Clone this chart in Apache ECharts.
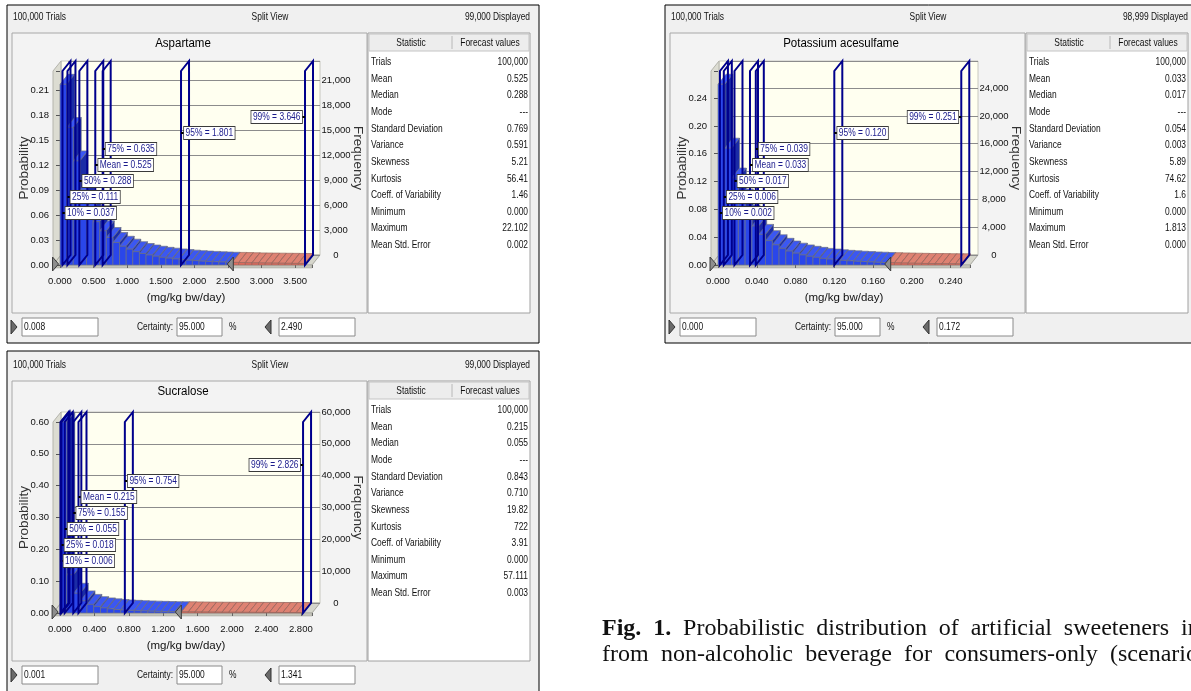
<!DOCTYPE html>
<html>
<head>
<meta charset="utf-8">
<script src="https://cdn.jsdelivr.net/npm/echarts@6/dist/echarts.min.js"></script>
<style>
html,body{margin:0;padding:0;background:#fff}
#chart{width:1191px;height:691px}
</style>
</head>
<body>
<div id="chart"></div>
<script>
var SANS = "'Liberation Sans',Arial,sans-serif";
var SERIF = "'Liberation Serif','Times New Roman',serif";
var NARROW_X = 0.78; // horizontal squeeze for the narrow dialog font

// ---- data ----
var trials = 100000;
var statNames = ['Trials', 'Mean', 'Median', 'Mode', 'Standard Deviation', 'Variance', 'Skewness',
  'Kurtosis', 'Coeff. of Variability', 'Minimum', 'Maximum', 'Mean Std. Error'];
var aspStats = ['100,000', '0.525', '0.288', '---', '0.769', '0.591', '5.21', '56.41', '1.46', '0.000', '22.102', '0.002'];
var sucStats = ['100,000', '0.215', '0.055', '---', '0.843', '0.710', '19.82', '722', '3.91', '0.000', '57.111', '0.003'];
var aceStats = ['100,000', '0.033', '0.017', '---', '0.054', '0.003', '5.89', '74.62', '1.6', '0.000', '1.813', '0.000'];

var pctNames = ['10%', '25%', '50%', 'Mean', '75%', '95%', '99%'];
var aspPct = [0.037, 0.111, 0.288, 0.525, 0.635, 1.801, 3.646];
var sucPct = [0.006, 0.018, 0.055, 0.215, 0.155, 0.754, 2.826];
var acePct = [0.002, 0.006, 0.017, 0.033, 0.039, 0.120, 0.251];

// certainty range [lower, upper]
var aspCertainty = [0.008, 2.490];
var sucCertainty = [0.001, 1.341];
var aceCertainty = [0.000, 0.172];

// histogram bins (probability per bin)
var aspBinWidth = 0.0985;
var aspProb = [0.217, 0.165, 0.125, 0.09, 0.068, 0.052, 0.041, 0.033, 0.027, 0.0225, 0.019, 0.016,
  0.0138, 0.012, 0.0105, 0.0092, 0.0082, 0.0073, 0.0065, 0.0058, 0.0052, 0.0047, 0.0043, 0.0039,
  0.0036, 0.0033, 0.0031, 0.0029, 0.0027, 0.0025, 0.0024, 0.0023, 0.0022, 0.0021, 0.002, 0.0019, 0.0018];
var sucBinWidth = 0.0785;
var sucProb = [0.60, 0.12, 0.062, 0.038, 0.027, 0.02, 0.016, 0.013, 0.011, 0.0095, 0.0083, 0.0073,
  0.0065, 0.0058, 0.0052, 0.0047, 0.0043, 0.004, 0.0037, 0.0034, 0.0031, 0.0029, 0.0027, 0.0025,
  0.0024, 0.0023, 0.0022, 0.0021, 0.002, 0.0019, 0.0018, 0.0017, 0.0016, 0.0015, 0.0015, 0.0014];
var aceBinWidth = 0.007;
var aceProb = [0.26, 0.168, 0.125, 0.095, 0.072, 0.056, 0.044, 0.035, 0.029, 0.024, 0.02, 0.017,
  0.0145, 0.0125, 0.011, 0.0095, 0.0085, 0.0075, 0.0067, 0.006, 0.0054, 0.0049, 0.0044, 0.004,
  0.0036, 0.0033, 0.003, 0.0028, 0.0026, 0.0024, 0.0022, 0.0021, 0.002, 0.0019, 0.0018, 0.0017];

// ---- layout ----
var DX = 8, DY = 10; // depth offset of the 3d back wall
var panels = [
  {name: 'Aspartame', ox: 7, oy: 5, frameY: 5, frameH: 338, displayed: '99,000 Displayed',
    probs: aspProb, binWidth: aspBinWidth, pct: aspPct, stats: aspStats, cert: aspCertainty,
    xMax: 3.75, xInterval: 0.5, yMax: 0.233, yInterval: 0.03, freqInterval: 3000, gridH: 194},
  {name: 'Sucralose', ox: 7, oy: 353, frameY: 351, frameH: 345, displayed: '99,000 Displayed',
    probs: sucProb, binWidth: sucBinWidth, pct: sucPct, stats: sucStats, cert: sucCertainty,
    xMax: 2.93, xInterval: 0.4, yMax: 0.6, yInterval: 0.1, freqInterval: 10000, gridH: 191},
  {name: 'Potassium acesulfame', ox: 665, oy: 5, frameY: 5, frameH: 338, displayed: '98,999 Displayed',
    probs: aceProb, binWidth: aceBinWidth, pct: acePct, stats: aceStats, cert: aceCertainty,
    xMax: 0.26, xInterval: 0.04, yMax: 0.279, yInterval: 0.04, freqInterval: 4000, gridH: 194}
];

var blue = {front: '#2a46ea', top: '#3b57f2', side: '#1b2ca6', edge: '#6f7386'};
var red = {front: '#e06a5c', top: '#de8272', side: '#b44a3c', edge: '#9a6a62'};

function tickFmt(interval, dec) {
  return function (v) {
    var k = v / interval;
    return Math.abs(k - Math.round(k)) < 1e-6 ? v.toFixed(dec) : '';
  };
}
function freqFmt(interval) {
  return function (v) {
    var k = v / interval;
    return Math.abs(k - Math.round(k)) < 1e-6 ? Math.round(v).toLocaleString('en-US') : '';
  };
}

var grids = [], xAxes = [], yAxes = [], series = [], graphics = [];

function txt(x, y, s, opt) {
  opt = opt || {};
  return {type: 'text', x: x, y: y, z: 5, scaleX: opt.scaleX || NARROW_X,
    style: {text: s, fontSize: opt.size || 10.8, fontFamily: SANS, fill: opt.color || '#111',
      align: opt.align || 'left', verticalAlign: 'middle'}};
}

function panelGraphics(p) {
  var ox = p.ox, oy = p.oy, g = [];
  g.push({type: 'rect', z: -10, shape: {x: ox, y: p.frameY, width: 532, height: p.frameH},
    style: {fill: '#f0f0f0', stroke: '#000', lineWidth: 1}});
  g.push(txt(ox + 6, oy + 12, '100,000 Trials'));
  g.push(txt(ox + 263, oy + 12, 'Split View', {align: 'center'}));
  g.push(txt(ox + 523, oy + 12, p.displayed, {align: 'right'}));
  // chart area
  g.push({type: 'rect', z: -9, shape: {x: ox + 5, y: oy + 28, width: 355, height: 280},
    style: {fill: '#f3f3f3', stroke: '#a8a8a8', lineWidth: 1}});
  g.push(txt(ox + 176, oy + 39, p.name, {align: 'center', size: 12.5, scaleX: 0.92, color: '#000'}));
  // statistics table
  var tx = ox + 361, ty = oy + 28;
  g.push({type: 'rect', z: -9, shape: {x: tx, y: ty, width: 162, height: 280},
    style: {fill: '#fff', stroke: '#a0a0a0', lineWidth: 1}});
  g.push({type: 'rect', z: -8, shape: {x: tx + 1, y: ty + 1, width: 160, height: 17},
    style: {fill: '#ededed', stroke: '#c4c4c4', lineWidth: 1}});
  g.push({type: 'line', z: -7, shape: {x1: tx + 84, y1: ty + 3, x2: tx + 84, y2: ty + 16},
    style: {stroke: '#b8b8b8', lineWidth: 1}});
  g.push(txt(tx + 43, ty + 10, 'Statistic', {align: 'center'}));
  g.push(txt(tx + 122, ty + 10, 'Forecast values', {align: 'center'}));
  statNames.forEach(function (n, i) {
    var y = oy + 57 + 16.65 * i;
    g.push(txt(tx + 3, y, n));
    g.push(txt(tx + 160, y, p.stats[i], {align: 'right'}));
  });
  // certainty controls
  var cy = oy + 322;
  function box(x, w, s) {
    g.push({type: 'rect', z: -8, shape: {x: x, y: cy - 9, width: w, height: 18},
      style: {fill: '#fff', stroke: '#8a8a8a', lineWidth: 1}});
    g.push(txt(x + 2, cy, s));
  }
  g.push({type: 'polygon', z: -8, shape: {points: [[ox + 4, cy - 7], [ox + 10, cy], [ox + 4, cy + 7]]},
    style: {fill: '#6a6a6a', stroke: '#333', lineWidth: 1}});
  box(ox + 15, 76, p.cert[0].toFixed(3));
  g.push(txt(ox + 166, cy, 'Certainty:', {align: 'right'}));
  box(ox + 170, 45, '95.000');
  g.push(txt(ox + 222, cy, '%'));
  g.push({type: 'polygon', z: -8, shape: {points: [[ox + 264, cy - 7], [ox + 258, cy], [ox + 264, cy + 7]]},
    style: {fill: '#6a6a6a', stroke: '#333', lineWidth: 1}});
  box(ox + 272, 76, p.cert[1].toFixed(3));
  return g;
}

panels.forEach(function (p, idx) {
  var fx = p.ox + 53, fy = p.oy + 260 - p.gridH;
  var gf = idx * 2, gb = idx * 2 + 1;
  grids.push({left: fx, top: fy, width: 252, height: p.gridH, outerBoundsMode: 'none'});
  grids.push({left: fx + DX, top: fy - DY, width: 252, height: p.gridH, outerBoundsMode: 'none'});

  xAxes.push({gridIndex: gf, type: 'value', min: 0, max: p.xMax, interval: p.xInterval,
    axisLine: {show: false}, axisTick: {show: true, length: 3, lineStyle: {color: '#666'}},
    splitLine: {show: false},
    axisLabel: {margin: 11, fontSize: 9.5, fontFamily: SANS, color: '#111', formatter: tickFmt(p.xInterval, 3)},
    name: '(mg/kg bw/day)', nameLocation: 'middle', nameGap: 27, nameMoveOverlap: false,
    nameTextStyle: {fontSize: 11.5, fontFamily: SANS, color: '#111'}});
  xAxes.push({gridIndex: gb, type: 'value', min: 0, max: p.xMax, show: false});

  yAxes.push({gridIndex: gf, type: 'value', min: 0, max: p.yMax, interval: p.yInterval, position: 'left',
    axisLine: {show: false}, axisTick: {show: true, length: 4, lineStyle: {color: '#555'}},
    splitLine: {show: false},
    axisLabel: {margin: 11, fontSize: 9.5, fontFamily: SANS, color: '#111', formatter: tickFmt(p.yInterval, 2)},
    name: 'Probability', nameLocation: 'middle', nameRotate: 90, nameGap: 29, nameMoveOverlap: false,
    nameTextStyle: {fontSize: 13.5, fontFamily: SANS, color: '#333'}});
  yAxes.push({gridIndex: gb, type: 'value', min: 0, max: p.yMax * trials, interval: p.freqInterval,
    position: 'right', axisLine: {show: false}, axisTick: {show: false},
    splitLine: {show: true, lineStyle: {color: '#8c8c8c', width: 1}},
    axisLabel: {margin: 16, align: 'center', fontSize: 9.5, fontFamily: SANS, color: '#111',
      padding: [0, 0, 6, 0], formatter: freqFmt(p.freqInterval)},
    name: 'Frequency', nameLocation: 'middle', nameRotate: -90, nameGap: 31, nameMoveOverlap: false,
    nameTextStyle: {fontSize: 13.5, fontFamily: SANS, color: '#333'}});

  // walls and floor
  series.push({type: 'custom', xAxisIndex: gf, yAxisIndex: gf, z: -1, silent: true, data: [[0, 0]],
    renderItem: function (params, api) {
      var cs = params.coordSys;
      var L = cs.x - 7, R = cs.x + cs.width, T = cs.y, B = cs.y + cs.height;
      return {type: 'group', children: [
        {type: 'rect', shape: {x: L + DX, y: T - DY, width: R - L, height: B - T},
          style: {fill: '#fffff0', stroke: '#c8c8c0', lineWidth: 1}},
        {type: 'polygon', shape: {points: [[L, T], [L + DX, T - DY], [L + DX, B - DY], [L, B]]},
          style: {fill: '#dcdcd2', stroke: '#b4b4ac', lineWidth: 1}},
        {type: 'polygon', shape: {points: [[L, B], [R, B], [R + DX, B - DY], [L + DX, B - DY]]},
          style: {fill: '#d6d6cc', stroke: '#a8a8a0', lineWidth: 1}},
        {type: 'rect', shape: {x: L, y: B, width: R - L, height: 3},
          style: {fill: '#c4c4ba', stroke: '#a0a098', lineWidth: 0.5}}
      ]};
    }});

  // histogram bars (pseudo 3d)
  var cut = p.cert[1];
  series.push({type: 'custom', xAxisIndex: gf, yAxisIndex: gf, z: 2, silent: true,
    encode: {x: [0, 1], y: 2},
    data: p.probs.map(function (v, i) { return [i * p.binWidth, (i + 1) * p.binWidth, v]; }),
    renderItem: function (params, api) {
      var x0 = api.value(0), x1 = api.value(1), h = api.value(2);
      var a = api.coord([x0, 0]), b = api.coord([x1, h]);
      var c = x0 >= cut ? red : blue;
      var l = a[0], r = b[0], bt = a[1], t = b[1];
      return {type: 'group', children: [
        {type: 'polygon', shape: {points: [[l, t], [r, t], [r + DX, t - DY], [l + DX, t - DY]]},
          style: {fill: c.top, stroke: c.edge, lineWidth: 0.7}},
        {type: 'polygon', shape: {points: [[r, bt], [r, t], [r + DX, t - DY], [r + DX, bt - DY]]},
          style: {fill: c.side, stroke: c.edge, lineWidth: 0.7}},
        {type: 'rect', shape: {x: l, y: t, width: r - l, height: bt - t},
          style: {fill: c.front, stroke: c.edge, lineWidth: 0.7}}
      ]};
    }});

  // percentile planes and their labels
  var ranks = p.pct.map(function (v) {
    return p.pct.filter(function (w) { return w < v; }).length;
  });
  series.push({type: 'custom', xAxisIndex: gf, yAxisIndex: gf, z: 3, silent: true,
    encode: {x: 0},
    data: p.pct.map(function (v, i) { return [v, ranks[i]]; }),
    renderItem: function (params, api) {
      var cs = params.coordSys;
      var v = api.value(0), rank = api.value(1);
      var x = api.coord([v, 0])[0];
      var top = cs.y, bot = cs.y + cs.height;
      var ly = bot - 52 - 16 * rank;
      var label = pctNames[params.dataIndex] + ' = ' + v.toFixed(3);
      var left = x + 55 > cs.x + cs.width;
      return {type: 'group', children: [
        {type: 'polygon', shape: {points: [[x, bot], [x, top], [x + DX, top - DY], [x + DX, bot - DY]]},
          style: {fill: 'none', stroke: '#00008c', lineWidth: 2}},
        {type: 'line', shape: {x1: left ? x - 3 : x, y1: ly, x2: left ? x : x + 3, y2: ly},
          style: {stroke: '#000', lineWidth: 2}},
        {type: 'text', x: left ? x - 3 : x + 3, y: ly, z2: 5, scaleX: NARROW_X,
          style: {text: label, align: left ? 'right' : 'left', verticalAlign: 'middle',
            fontSize: 10.8, fontFamily: SANS, fill: '#1a1a8c', backgroundColor: '#fff',
            borderColor: '#3a3a3a', borderWidth: 1, padding: [1, 2, 0, 2]}}
      ]};
    }});

  // certainty grabbers on the floor
  series.push({type: 'custom', xAxisIndex: gf, yAxisIndex: gf, z: 4, silent: true,
    encode: {x: 0},
    data: p.cert.map(function (v, i) { return [v, i]; }),
    renderItem: function (params, api) {
      var cs = params.coordSys;
      var x = api.coord([api.value(0), 0])[0], b = cs.y + cs.height - 1;
      var pts = api.value(1) === 0
        ? [[x - 8, b - 7], [x - 2, b], [x - 8, b + 7]]
        : [[x + 6, b - 7], [x, b], [x + 6, b + 7]];
      return {type: 'polygon', shape: {points: pts},
        style: {fill: '#8e8e8e', stroke: '#3c3c3c', lineWidth: 1}};
    }});

  graphics = graphics.concat(panelGraphics(p));
});

// ---- caption (justified lines, cut by the right edge) ----
var CAP = 24;
var capCtx = document.createElement('canvas').getContext('2d');
function captionLine(words, y, firstX, lastX) {
  var widths = words.map(function (w) {
    capCtx.font = (w.bold ? 'bold ' : '') + CAP + 'px ' + SERIF;
    return capCtx.measureText(w.text).width;
  });
  var sum = 0;
  for (var i = 0; i < words.length - 1; i++) sum += widths[i];
  var gap = (lastX - firstX - sum) / (words.length - 1);
  var x = firstX, out = [];
  words.forEach(function (w, i) {
    out.push({type: 'text', x: x, y: y, z: 5, style: {text: w.text, fontSize: CAP, fontFamily: SERIF,
      fontWeight: w.bold ? 'bold' : 'normal', fill: '#111', verticalAlign: 'middle'}});
    x += widths[i] + gap;
  });
  return out;
}
graphics = graphics.concat(captionLine([
  {text: 'Fig.', bold: true}, {text: '1.', bold: true}, {text: 'Probabilistic'}, {text: 'distribution'},
  {text: 'of'}, {text: 'artificial'}, {text: 'sweeteners'}, {text: 'intake'}], 629, 602, 1181));
graphics = graphics.concat(captionLine([
  {text: 'from'}, {text: 'non-alcoholic'}, {text: 'beverage'}, {text: 'for'},
  {text: 'consumers-only'}, {text: '(scenario 1)'}], 655, 602, 1110));

var chart = echarts.init(document.getElementById('chart'));
chart.setOption({
  animation: false,
  backgroundColor: '#fff',
  grid: grids,
  xAxis: xAxes,
  yAxis: yAxes,
  series: series,
  graphic: {elements: graphics}
});
</script>
</body>
</html>
